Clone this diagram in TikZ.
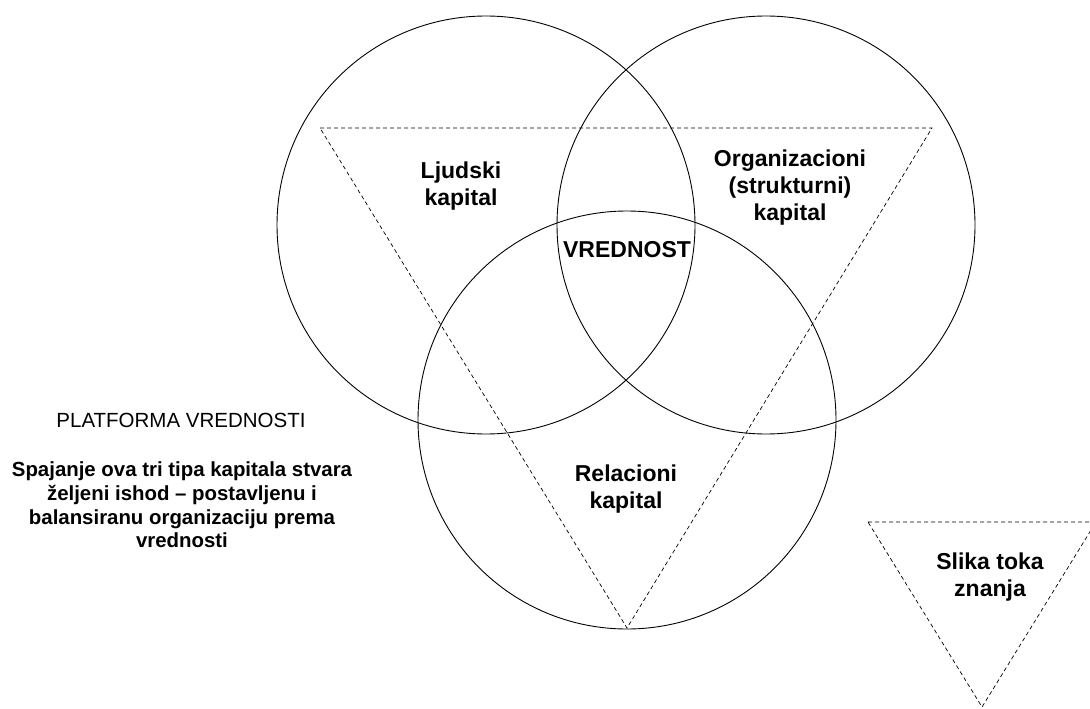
\documentclass[tikz,border=0pt]{standalone}
\usepackage{fontspec}
\setmainfont{Liberation Sans}
\begin{document}
\begin{tikzpicture}[x=1pt,y=-1pt,
  ring/.style={circle, draw=black, line width=0.9pt, minimum size=418pt, inner sep=0pt},
  flow/.style={draw=black, line width=0.7pt, dash pattern=on 4pt off 3pt},
  lbl/.style={font=\bfseries\fontsize{23}{27}\selectfont, align=center, inner sep=0pt},
  side/.style={font=\bfseries\fontsize{20.4}{23.8}\selectfont, align=center, inner sep=0pt},
  title/.style={font=\fontsize{20.5}{24}\selectfont, align=center, inner sep=0pt}]
\useasboundingbox (0,0) rectangle (1090,709);
\clip (0,0) rectangle (1090,709);
% circles
\node[ring] (human) at (486,225) {};
\node[ring] (org) at (766,225) {};
\node[ring] (rel) at (627,420) {};
% large dashed triangle
\coordinate (ta) at (320,128);
\coordinate (tb) at (932,128);
\coordinate (tc) at (627,628);
\draw[flow] (ta) -- (tb) -- (tc) -- cycle;
% small dashed triangle
\coordinate (sa) at (868,522);
\coordinate (sb) at (1096,522);
\coordinate (sc) at (982,707);
\draw[flow] (sa) -- (sb) -- (sc) -- cycle;
% labels
\node[lbl] (lj) at (461,186) {Ljudski\\kapital};
\node[lbl] (oz) at (790,187.5) {Organizacioni\\(strukturni)\\kapital};
\node[lbl] (vr) at (627,249.5) {VREDNOST};
\node[lbl] (rk) at (626,489) {Relacioni\\kapital};
\node[lbl] (sl) at (990,577) {Slika toka\\znanja};
\node[title] (pv) at (181,420) {PLATFORMA VREDNOSTI};
\node[side] (sp) at (182,505) {Spajanje ova tri tipa kapitala stvara\\željeni ishod – postavljenu i\\balansiranu organizaciju prema\\vrednosti};
\end{tikzpicture}
\end{document}
